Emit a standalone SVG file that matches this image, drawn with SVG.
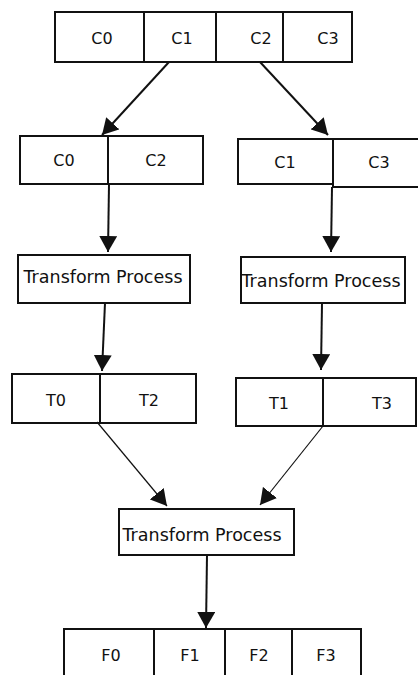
<svg xmlns="http://www.w3.org/2000/svg" width="418" height="675" viewBox="0 0 418 675">
  <style>
    .cell { fill: #fff; stroke: #111; stroke-width: 2; }
    .lbl { font-family: "DejaVu Sans", Verdana, sans-serif; font-size: 16px; fill: #111; text-anchor: middle; }
    .proc { font-family: "DejaVu Sans", Verdana, sans-serif; font-size: 17.5px; fill: #111; text-anchor: middle; }
    .edge { fill: none; stroke: #111; stroke-width: 2; }
    .edge.thin { stroke-width: 1.2; }
  </style>
  <defs>
    <marker id="head" markerUnits="userSpaceOnUse" markerWidth="17" markerHeight="18" refX="16" refY="9" orient="auto">
      <path d="M0,0 L16,9 L0,18 z" fill="#111"/>
    </marker>
  </defs>
  <rect width="418" height="675" fill="#fff"/>

  <!-- input chunks -->
  <g id="input">
    <rect class="cell" x="55" y="12" width="89" height="50"/>
    <rect class="cell" x="144" y="12" width="72" height="50"/>
    <rect class="cell" x="216" y="12" width="67" height="50"/>
    <rect class="cell" x="283" y="12" width="69" height="50"/>
    <text class="lbl" x="102" y="44">C0</text>
    <text class="lbl" x="182" y="44">C1</text>
    <text class="lbl" x="261" y="44">C2</text>
    <text class="lbl" x="328" y="44">C3</text>
  </g>

  <!-- even split -->
  <g id="split-even">
    <rect class="cell" x="20" y="136" width="88" height="48"/>
    <rect class="cell" x="108" y="136" width="95" height="48"/>
    <text class="lbl" x="64" y="166">C0</text>
    <text class="lbl" x="156" y="166">C2</text>
  </g>

  <!-- odd split -->
  <g id="split-odd">
    <rect class="cell" x="238" y="139" width="95" height="45"/>
    <rect class="cell" x="333" y="139" width="90" height="48"/>
    <text class="lbl" x="285" y="168">C1</text>
    <text class="lbl" x="379" y="168">C3</text>
  </g>

  <!-- transforms on each half -->
  <g id="transform-even">
    <rect class="cell" x="18" y="255" width="172" height="48"/>
    <text class="proc" x="103" y="283">Transform Process</text>
  </g>
  <g id="transform-odd">
    <rect class="cell" x="241" y="257" width="164" height="46"/>
    <text class="proc" x="321" y="287">Transform Process</text>
  </g>

  <!-- transformed halves -->
  <g id="result-even">
    <rect class="cell" x="12" y="374" width="88" height="49"/>
    <rect class="cell" x="100" y="374" width="96" height="49"/>
    <text class="lbl" x="56" y="406">T0</text>
    <text class="lbl" x="149" y="406">T2</text>
  </g>
  <g id="result-odd">
    <rect class="cell" x="236" y="378" width="87" height="48"/>
    <rect class="cell" x="323" y="378" width="93" height="48"/>
    <text class="lbl" x="279" y="409">T1</text>
    <text class="lbl" x="382" y="409">T3</text>
  </g>

  <!-- combining transform -->
  <g id="transform-final">
    <rect class="cell" x="119" y="509" width="175" height="46"/>
    <text class="proc" x="202" y="541">Transform Process</text>
  </g>

  <!-- output -->
  <g id="output">
    <rect class="cell" x="64" y="629" width="90" height="60"/>
    <rect class="cell" x="154" y="629" width="71" height="60"/>
    <rect class="cell" x="225" y="629" width="67" height="60"/>
    <rect class="cell" x="292" y="629" width="69" height="60"/>
    <text class="lbl" x="111" y="661">F0</text>
    <text class="lbl" x="190" y="661">F1</text>
    <text class="lbl" x="259" y="661">F2</text>
    <text class="lbl" x="326" y="661">F3</text>
  </g>

  <!-- connectors -->
  <g id="connectors">
    <line class="edge" x1="169" y1="62" x2="102" y2="135" marker-end="url(#head)"/>
    <line class="edge" x1="260" y1="62" x2="328" y2="135" marker-end="url(#head)"/>
    <line class="edge" x1="109" y1="184" x2="108" y2="252" marker-end="url(#head)"/>
    <line class="edge" x1="332" y1="187" x2="331" y2="252" marker-end="url(#head)"/>
    <line class="edge" x1="105" y1="303" x2="102" y2="371" marker-end="url(#head)"/>
    <line class="edge" x1="322" y1="303" x2="321" y2="370" marker-end="url(#head)"/>
    <line class="edge thin" x1="97" y1="422" x2="167" y2="506" marker-end="url(#head)"/>
    <line class="edge thin" x1="323" y1="426" x2="260" y2="505" marker-end="url(#head)"/>
    <line class="edge" x1="207" y1="555" x2="206" y2="628" marker-end="url(#head)"/>
  </g>
</svg>
